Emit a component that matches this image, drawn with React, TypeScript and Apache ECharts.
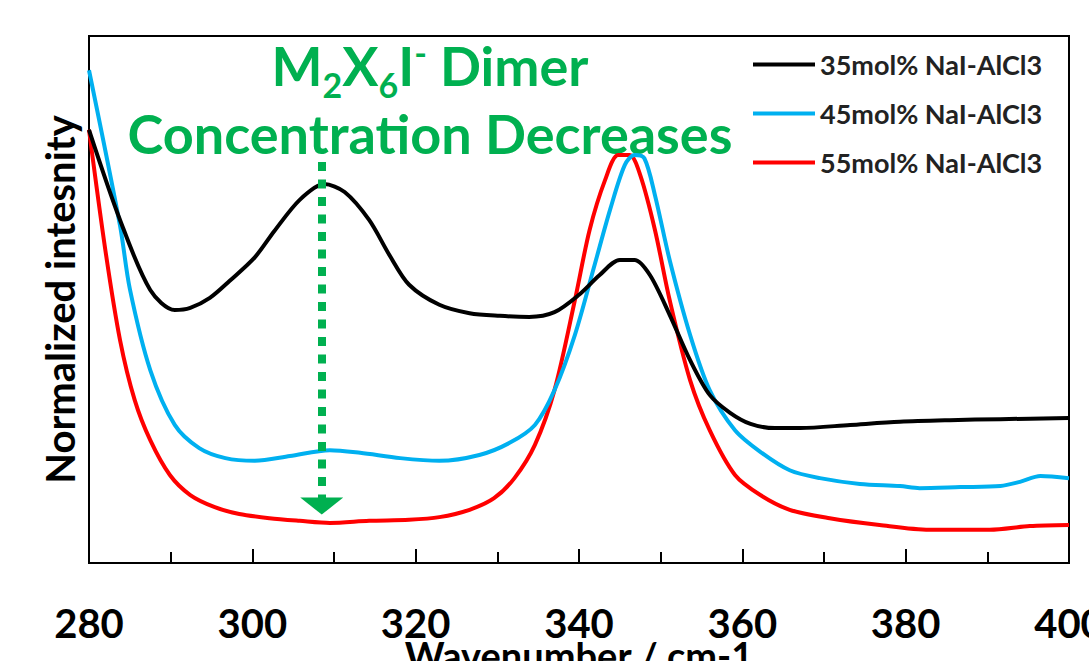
import React, { useEffect, useRef } from "react";
import * as echarts from "echarts";

const seriesNames = ["35mol% NaI-AlCl3", "45mol% NaI-AlCl3", "55mol% NaI-AlCl3"];
const seriesColors = ["#000000", "#00B0F0", "#FF0000"];

const blackX = [280, 283.8, 287.5, 290.5, 292.4, 294.8, 297.2, 300.3, 302.7, 305.8, 308.8, 311.3, 314.3, 316.8, 319.2, 322.9, 326.6, 330.3, 333.9, 337, 340, 342.5, 345, 346.8, 348.7, 351.1, 353.6, 356, 358.5, 361, 364, 367.1, 373.2, 379.3, 385.4, 391.6, 400];
const blackY = [0.822, 0.651, 0.518, 0.48, 0.484, 0.503, 0.535, 0.58, 0.63, 0.689, 0.719, 0.704, 0.651, 0.584, 0.528, 0.49, 0.474, 0.469, 0.467, 0.476, 0.509, 0.546, 0.575, 0.575, 0.546, 0.471, 0.385, 0.319, 0.285, 0.264, 0.256, 0.256, 0.262, 0.268, 0.271, 0.273, 0.275];

const blueX = [280, 283.8, 285, 287.5, 290.5, 293.5, 296.7, 300.3, 304.6, 309.5, 313.2, 318.1, 322.9, 327.8, 331.5, 334.6, 337, 339.5, 341.9, 343.8, 345.6, 346.8, 348, 349.3, 351.1, 353.6, 356, 359.1, 362.2, 365.8, 369.5, 374.4, 379.3, 381.7, 386.7, 391.6, 394, 396.5, 400];
const blueY = [0.935, 0.64, 0.52, 0.366, 0.262, 0.218, 0.199, 0.194, 0.203, 0.214, 0.209, 0.199, 0.194, 0.205, 0.228, 0.262, 0.328, 0.433, 0.565, 0.67, 0.755, 0.774, 0.768, 0.698, 0.575, 0.433, 0.328, 0.252, 0.211, 0.176, 0.161, 0.15, 0.146, 0.142, 0.144, 0.146, 0.154, 0.165, 0.161];

const redX = [280, 282, 283.8, 285.6, 287.5, 289.9, 292.4, 295.4, 298.4, 302.1, 305.8, 309.5, 314.3, 319.2, 322.9, 326.6, 329.6, 332.1, 334.6, 337, 339.5, 341.3, 343.2, 344.8, 346.2, 347.5, 349.3, 351.1, 353.6, 356, 359.1, 362.2, 365.8, 370.7, 376.8, 382.9, 390.3, 395.2, 400];
const redY = [0.822, 0.594, 0.423, 0.309, 0.233, 0.167, 0.129, 0.106, 0.093, 0.085, 0.08, 0.076, 0.08, 0.082, 0.087, 0.101, 0.123, 0.161, 0.224, 0.328, 0.499, 0.632, 0.727, 0.774, 0.774, 0.736, 0.632, 0.499, 0.347, 0.252, 0.167, 0.129, 0.101, 0.085, 0.072, 0.063, 0.063, 0.07, 0.072];

const arrowX = 308.5;
const arrowTop = 0.761;
const arrowBottom = 0.123;
const arrowHead = 0.108;

const FONT = "Lato";
const GREEN = "#00B050";

export default function App() {
  const ref = useRef<HTMLDivElement>(null);
  useEffect(() => {
    if (!ref.current) return;
    const chart = echarts.init(ref.current, null, { renderer: "svg" });
    const xs = [blackX, blueX, redX];
    const ys = [blackY, blueY, redY];
    const series: any[] = seriesNames.map((name, i) => ({
      name,
      type: "line",
      data: xs[i].map((x, j) => [x, ys[i][j]]),
      smooth: 0.3,
      symbol: "none",
      showSymbol: false,
      lineStyle: { color: seriesColors[i], width: 4 },
      itemStyle: { color: seriesColors[i] },
      z: 3 - i,
    }));
    series.push({
      name: "arrow",
      type: "line",
      data: [],
      symbol: "none",
      markLine: {
        silent: true,
        symbol: ["none", "none"],
        label: { show: false },
        lineStyle: { color: GREEN, width: 8, type: [9, 8.5] },
        data: [[{ coord: [arrowX, arrowTop] }, { coord: [arrowX, arrowBottom] }]],
      },
      markPoint: {
        silent: true,
        symbol: "triangle",
        symbolSize: [43, 17],
        symbolRotate: 180,
        itemStyle: { color: GREEN },
        label: { show: false },
        data: [{ coord: [arrowX, arrowHead] }],
      },
    });
    chart.setOption({
      animation: false,
      grid: {
        left: 89,
        right: 20,
        top: 36,
        bottom: 98,
        containLabel: false,
        outerBoundsMode: "none",
        show: true,
        borderColor: "#000",
        borderWidth: 2,
        backgroundColor: "transparent",
      },
      legend: {
        data: seriesNames,
        orient: "vertical",
        left: 748,
        top: 46,
        itemGap: 22,
        itemWidth: 62,
        itemHeight: 4,
        icon: "rect",
        textStyle: { fontFamily: FONT, fontWeight: "bold", fontSize: 27, color: "#222" },
      },
      xAxis: {
        type: "value",
        min: 280,
        max: 400,
        interval: 20,
        name: "Wavenumber / cm-1",
        nameLocation: "middle",
        nameGap: 77,
        nameMoveOverlap: false,
        nameTextStyle: { fontFamily: FONT, fontWeight: "bold", fontSize: 38, lineHeight: 30, color: "#000" },
        axisLine: { show: true, lineStyle: { color: "#000", width: 2 } },
        axisTick: { show: true, inside: true, length: 14, lineStyle: { color: "#000", width: 2 } },
        minorTick: { show: true, splitNumber: 2, length: 11, lineStyle: { color: "#000", width: 2 } },
        axisLabel: { fontFamily: FONT, fontWeight: "bold", fontSize: 40, lineHeight: 32, color: "#000", margin: 44 },
        splitLine: { show: false },
      },
      yAxis: {
        type: "value",
        min: 0,
        max: 1,
        name: "Normalized intesnity",
        nameLocation: "middle",
        nameGap: 9,
        nameMoveOverlap: false,
        nameTextStyle: { fontFamily: FONT, fontWeight: "bold", fontSize: 40, color: "#000" },
        axisLine: { show: true, lineStyle: { color: "#000", width: 2 } },
        axisTick: { show: false },
        axisLabel: { show: false },
        splitLine: { show: false },
      },
      graphic: [
        {
          type: "text",
          x: 430,
          y: 65,
          style: {
            text: "{m|M}{sub|2}{m|X}{sub|6}{m|I}{sup|-}{m| Dimer}",
            align: "center",
            verticalAlign: "middle",
            fill: GREEN,
            rich: {
              m: { fontFamily: FONT, fontWeight: "bold", fontSize: 54, fill: GREEN, lineHeight: 60 },
              sub: { fontFamily: FONT, fontWeight: "bold", fontSize: 34, fill: GREEN, lineHeight: 60, verticalAlign: "bottom", padding: [0, 0, -6, 0] },
              sup: { fontFamily: FONT, fontWeight: "bold", fontSize: 34, fill: GREEN, lineHeight: 60, verticalAlign: "top" },
            },
          },
        },
        {
          type: "text",
          x: 430,
          y: 133,
          style: {
            text: "Concentration Decreases",
            align: "center",
            verticalAlign: "middle",
            fill: GREEN,
            fontFamily: FONT,
            fontWeight: "bold",
            fontSize: 54,
          },
        },
      ],
      series,
    });
    return () => chart.dispose();
  }, []);
  return <div ref={ref} style={{ width: 1089, height: 661, position: "absolute", left: 0, top: 0 }} />;
}
